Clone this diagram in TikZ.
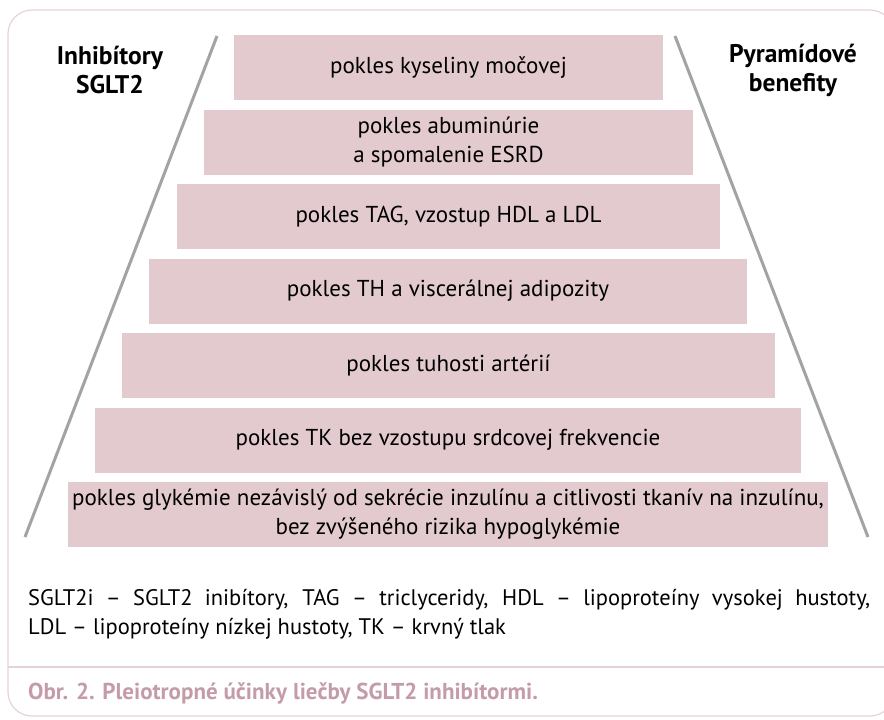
\documentclass[tikz,border=0pt]{standalone}
\usepackage{fontspec}
\setmainfont{PT Sans}
\definecolor{boxpink}{HTML}{E3CACF}
\definecolor{framepink}{HTML}{E6D3D8}
\definecolor{captpink}{HTML}{C49CA7}
\definecolor{linegray}{HTML}{A3A3A3}
\tikzset{
  lvl/.style={fill=boxpink, draw=none, inner sep=0pt, minimum height=65pt, align=center,
    font=\fontsize{23}{29}\selectfont},
  head/.style={align=center, font=\bfseries\fontsize{25.5}{29}\selectfont, inner sep=0pt},
  side/.style={draw=linegray, line width=3pt},
}
\begin{document}
\begin{tikzpicture}[x=1pt,y=-1pt]
\useasboundingbox (0,0) rectangle (884,720);
% frame
\draw[framepink, line width=1.2pt, rounded corners=24pt] (8,716) rectangle (894,10);
\draw[framepink, line width=1.2pt] (8,667) -- (894,667);
% side lines
\coordinate (l1) at (217,36);
\coordinate (l2) at (25,537);
\coordinate (r1) at (675,36);
\coordinate (r2) at (868,537);
\draw[side] (l1) -- (l2);
\draw[side] (r1) -- (r2);
% headings
\node[head] (hl) at (110,70) {Inhibítory\\SGLT2};
\node[head] (hr) at (793,70) {Pyramídové\\benefity};
% levels
\node[lvl, minimum width=429pt] (b1) at (448.5,67.5) {pokles kyseliny močovej};
\node[lvl, minimum width=489pt] (b2) at (448.5,142) {pokles abuminúrie\\a spomalenie ESRD};
\node[lvl, minimum width=543pt] (b3) at (448.5,216.5) {pokles TAG, vzostup HDL a LDL};
\node[lvl, minimum width=598pt] (b4) at (448,291) {pokles TH a viscerálnej adipozity};
\node[lvl, minimum width=653pt] (b5) at (448.5,365.5) {pokles tuhosti artérií};
\node[lvl, minimum width=706pt] (b6) at (448,440) {pokles TK bez vzostupu srdcovej frekvencie};
\node[lvl, minimum width=760pt] (b7) at (448,514.5) {pokles glykémie nezávislý od sekrécie inzulínu a citlivosti tkanív na inzulínu,\\bez zvýšeného rizika hypoglykémie};
% legend
\node[anchor=north west, inner sep=0pt, align=left,
  font=\fontsize{22.5}{29}\selectfont] (leg) at (28,589)
  {\makebox[842pt][s]{SGLT2i – SGLT2 inibítory, TAG – triclyceridy, HDL – lipoproteíny vysokej hustoty,}\\
   LDL – lipoproteíny nízkej hustoty, TK – krvný tlak};
% caption
\node[anchor=west, inner sep=0pt, text=captpink, font=\bfseries\fontsize{23}{26}\selectfont] (cap) at (28,693)
  {Obr. 2. Pleiotropné účinky liečby SGLT2 inhibítormi.};
\end{tikzpicture}
\end{document}
